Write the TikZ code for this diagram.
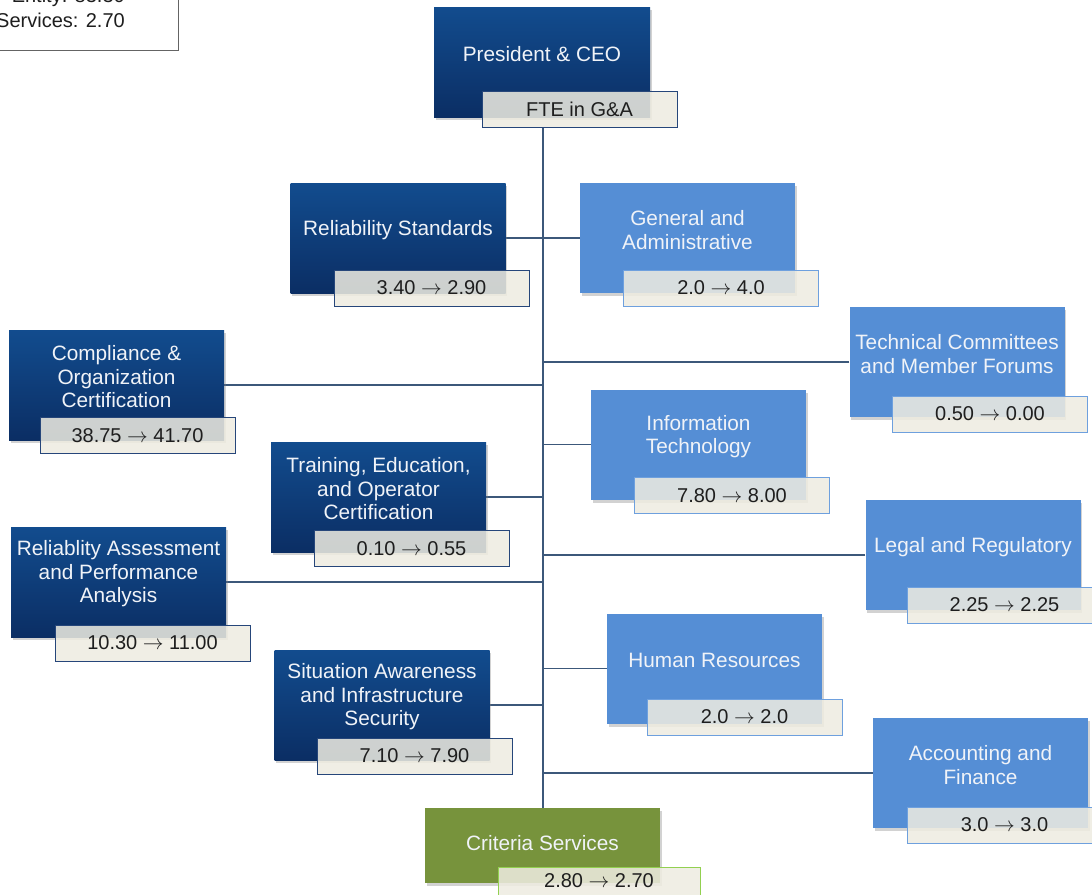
\documentclass[tikz,border=0pt]{standalone}
\usepackage{fontspec}
\setmainfont{Liberation Sans}
\usetikzlibrary{shadows,backgrounds}
\definecolor{dkTop}{RGB}{18,76,142}
\definecolor{dkBot}{RGB}{11,46,100}
\definecolor{ltBlue}{RGB}{85,142,213}
\definecolor{ltBorder}{RGB}{110,160,222}
\definecolor{dkBorder}{RGB}{38,70,122}
\definecolor{grn}{RGB}{119,147,60}
\definecolor{grnBorder}{RGB}{146,208,80}
\definecolor{cream}{RGB}{238,236,225}
\definecolor{connc}{RGB}{60,88,122}
\definecolor{boxtxt}{RGB}{240,243,248}
\definecolor{valtxt}{RGB}{30,30,30}
\definecolor{legborder}{RGB}{100,100,100}
\newcommand{\arr}{ $\rightarrow$ }
\tikzset{
  orgbox/.style={rectangle, minimum width=215pt, minimum height=110pt, inner sep=0pt,
    drop shadow={shadow xshift=1.5pt, shadow yshift=-3pt, opacity=0.35}},
  darkbox/.style={orgbox, top color=dkTop, bottom color=dkBot},
  lightbox/.style={orgbox, fill=ltBlue},
  greenbox/.style={orgbox, fill=grn},
  valbox/.style={rectangle, minimum width=195pt, minimum height=36pt, inner sep=0pt,
    fill=cream, fill opacity=0.86, text opacity=1, line width=0.9pt, text=valtxt,
    font=\fontsize{20}{22}\selectfont},
  dkval/.style={valbox, draw=dkBorder},
  ltval/.style={valbox, draw=ltBorder},
  gnval/.style={valbox, draw=grnBorder},
  boxlabel/.style={text=boxtxt, align=center, inner sep=0pt,
    font=\fontsize{20.8}{23.5}\selectfont},
  connector/.style={draw=connc, line width=1.2pt},
}
\begin{document}
\begin{tikzpicture}[x=1pt,y=-1pt]
\useasboundingbox (0,0) rectangle (1092,894);
\clip (0,0) rectangle (1092,894);
\begin{pgfonlayer}{background}
\fill[white] (0,0) rectangle (1092,894);
\end{pgfonlayer}

% legend (cut off at top-left)
\node[rectangle, draw=legborder, fill=white, line width=0.9pt,
  minimum width=218pt, minimum height=100pt, inner sep=0pt] (legend) at (69,0) {};
\node[anchor=east, inner sep=0pt, text=valtxt, font=\fontsize{20}{22}\selectfont] (leg1) at (125,-3) {Entity: 83.30};
\node[anchor=east, inner sep=0pt, text=valtxt, font=\fontsize{20}{22}\selectfont] (leg2) at (125,20) {Services: 2.70};

% main boxes
\node[darkbox, minimum width=216pt] (ceo) at (542,62) {};
\node[darkbox] (rs) at (398,238) {};
\node[lightbox] (ga) at (687.5,238) {};
\node[lightbox] (tc) at (957,362) {};
\node[darkbox] (co) at (116.5,385) {};
\node[lightbox] (it) at (698.5,444.5) {};
\node[darkbox] (tr) at (378.5,497) {};
\node[lightbox] (lr) at (973,555) {};
\node[darkbox] (ra) at (118.5,582) {};
\node[lightbox] (hr) at (714.5,668.5) {};
\node[darkbox] (sa) at (382,705) {};
\node[lightbox] (af) at (980.5,773) {};
\node[greenbox, minimum width=235pt, minimum height=75pt] (cs) at (542.5,845.5) {};

% connectors
\coordinate (trunktop) at (543,127);
\coordinate (trunkbot) at (543,808);
\begin{pgfonlayer}{background}
\draw[connector] (trunktop) -- (trunkbot);
\draw[connector] (rs.east) -- (rs.east -| trunktop);
\draw[connector] (co.east) -- (co.east -| trunktop);
\draw[connector] (tr.east) -- (tr.east -| trunktop);
\draw[connector] (ra.east) -- (ra.east -| trunktop);
\draw[connector] (sa.east) -- (sa.east -| trunktop);
\draw[connector] (ga.west) -- (ga.west -| trunktop);
\draw[connector] (tc.west) -- (tc.west -| trunktop);
\draw[connector] (it.west) -- (it.west -| trunktop);
\draw[connector] (lr.west) -- (lr.west -| trunktop);
\draw[connector] (hr.west) -- (hr.west -| trunktop);
\draw[connector] (af.west) -- (af.west -| trunktop);
\end{pgfonlayer}

% labels
\node[boxlabel] (ceot) at ([yshift=8pt]ceo.center) {President \& CEO};
\node[boxlabel] (rst) at ([yshift=8pt]rs.center) {Reliability Standards};
\node[boxlabel] (gat) at ([yshift=8pt]ga.center) {General and\\Administrative};
\node[boxlabel] (tct) at ([yshift=8pt]tc.center) {Technical Committees\\and Member Forums};
\node[boxlabel] (cot) at ([yshift=8pt]co.center) {Compliance \&\\Organization\\Certification};
\node[boxlabel] (itt) at ([yshift=8pt]it.center) {Information\\Technology};
\node[boxlabel] (trt) at ([yshift=8pt]tr.center) {Training, Education,\\and Operator\\Certification};
\node[boxlabel] (lrt) at ([yshift=8pt]lr.center) {Legal and Regulatory};
\node[boxlabel] (rat) at ([yshift=8pt]ra.center) {Reliablity Assessment\\and Performance\\Analysis};
\node[boxlabel] (hrt) at ([yshift=8pt]hr.center) {Human Resources};
\node[boxlabel] (sat) at ([yshift=8pt]sa.center) {Situation Awareness\\and Infrastructure\\Security};
\node[boxlabel] (aft) at ([yshift=8pt]af.center) {Accounting and\\Finance};
\node[boxlabel] (cst) at ([yshift=2pt]cs.center) {Criteria Services};

% value boxes
\node[dkval] (ceov) at (579.5,109) {FTE in G\&A};
\node[dkval] (rsv) at (431.5,288) {3.40\arr2.90};
\node[ltval] (gav) at (721,288) {2.0\arr4.0};
\node[ltval] (tcv) at (990,414) {0.50\arr0.00};
\node[dkval] (cov) at (137.5,435.5) {38.75\arr41.70};
\node[ltval] (itv) at (732,495.5) {7.80\arr8.00};
\node[dkval] (trv) at (411.5,548.5) {0.10\arr0.55};
\node[ltval] (lrv) at (1004.5,605) {2.25\arr2.25};
\node[dkval] (rav) at (152.5,643) {10.30\arr11.00};
\node[ltval] (hrv) at (744.5,717) {2.0\arr2.0};
\node[dkval] (sav) at (414.5,756) {7.10\arr7.90};
\node[ltval] (afv) at (1004.5,825) {3.0\arr3.0};
\node[gnval, minimum width=202pt, minimum height=28pt] (csv) at (599,881) {2.80\arr2.70};
\end{tikzpicture}
\end{document}
